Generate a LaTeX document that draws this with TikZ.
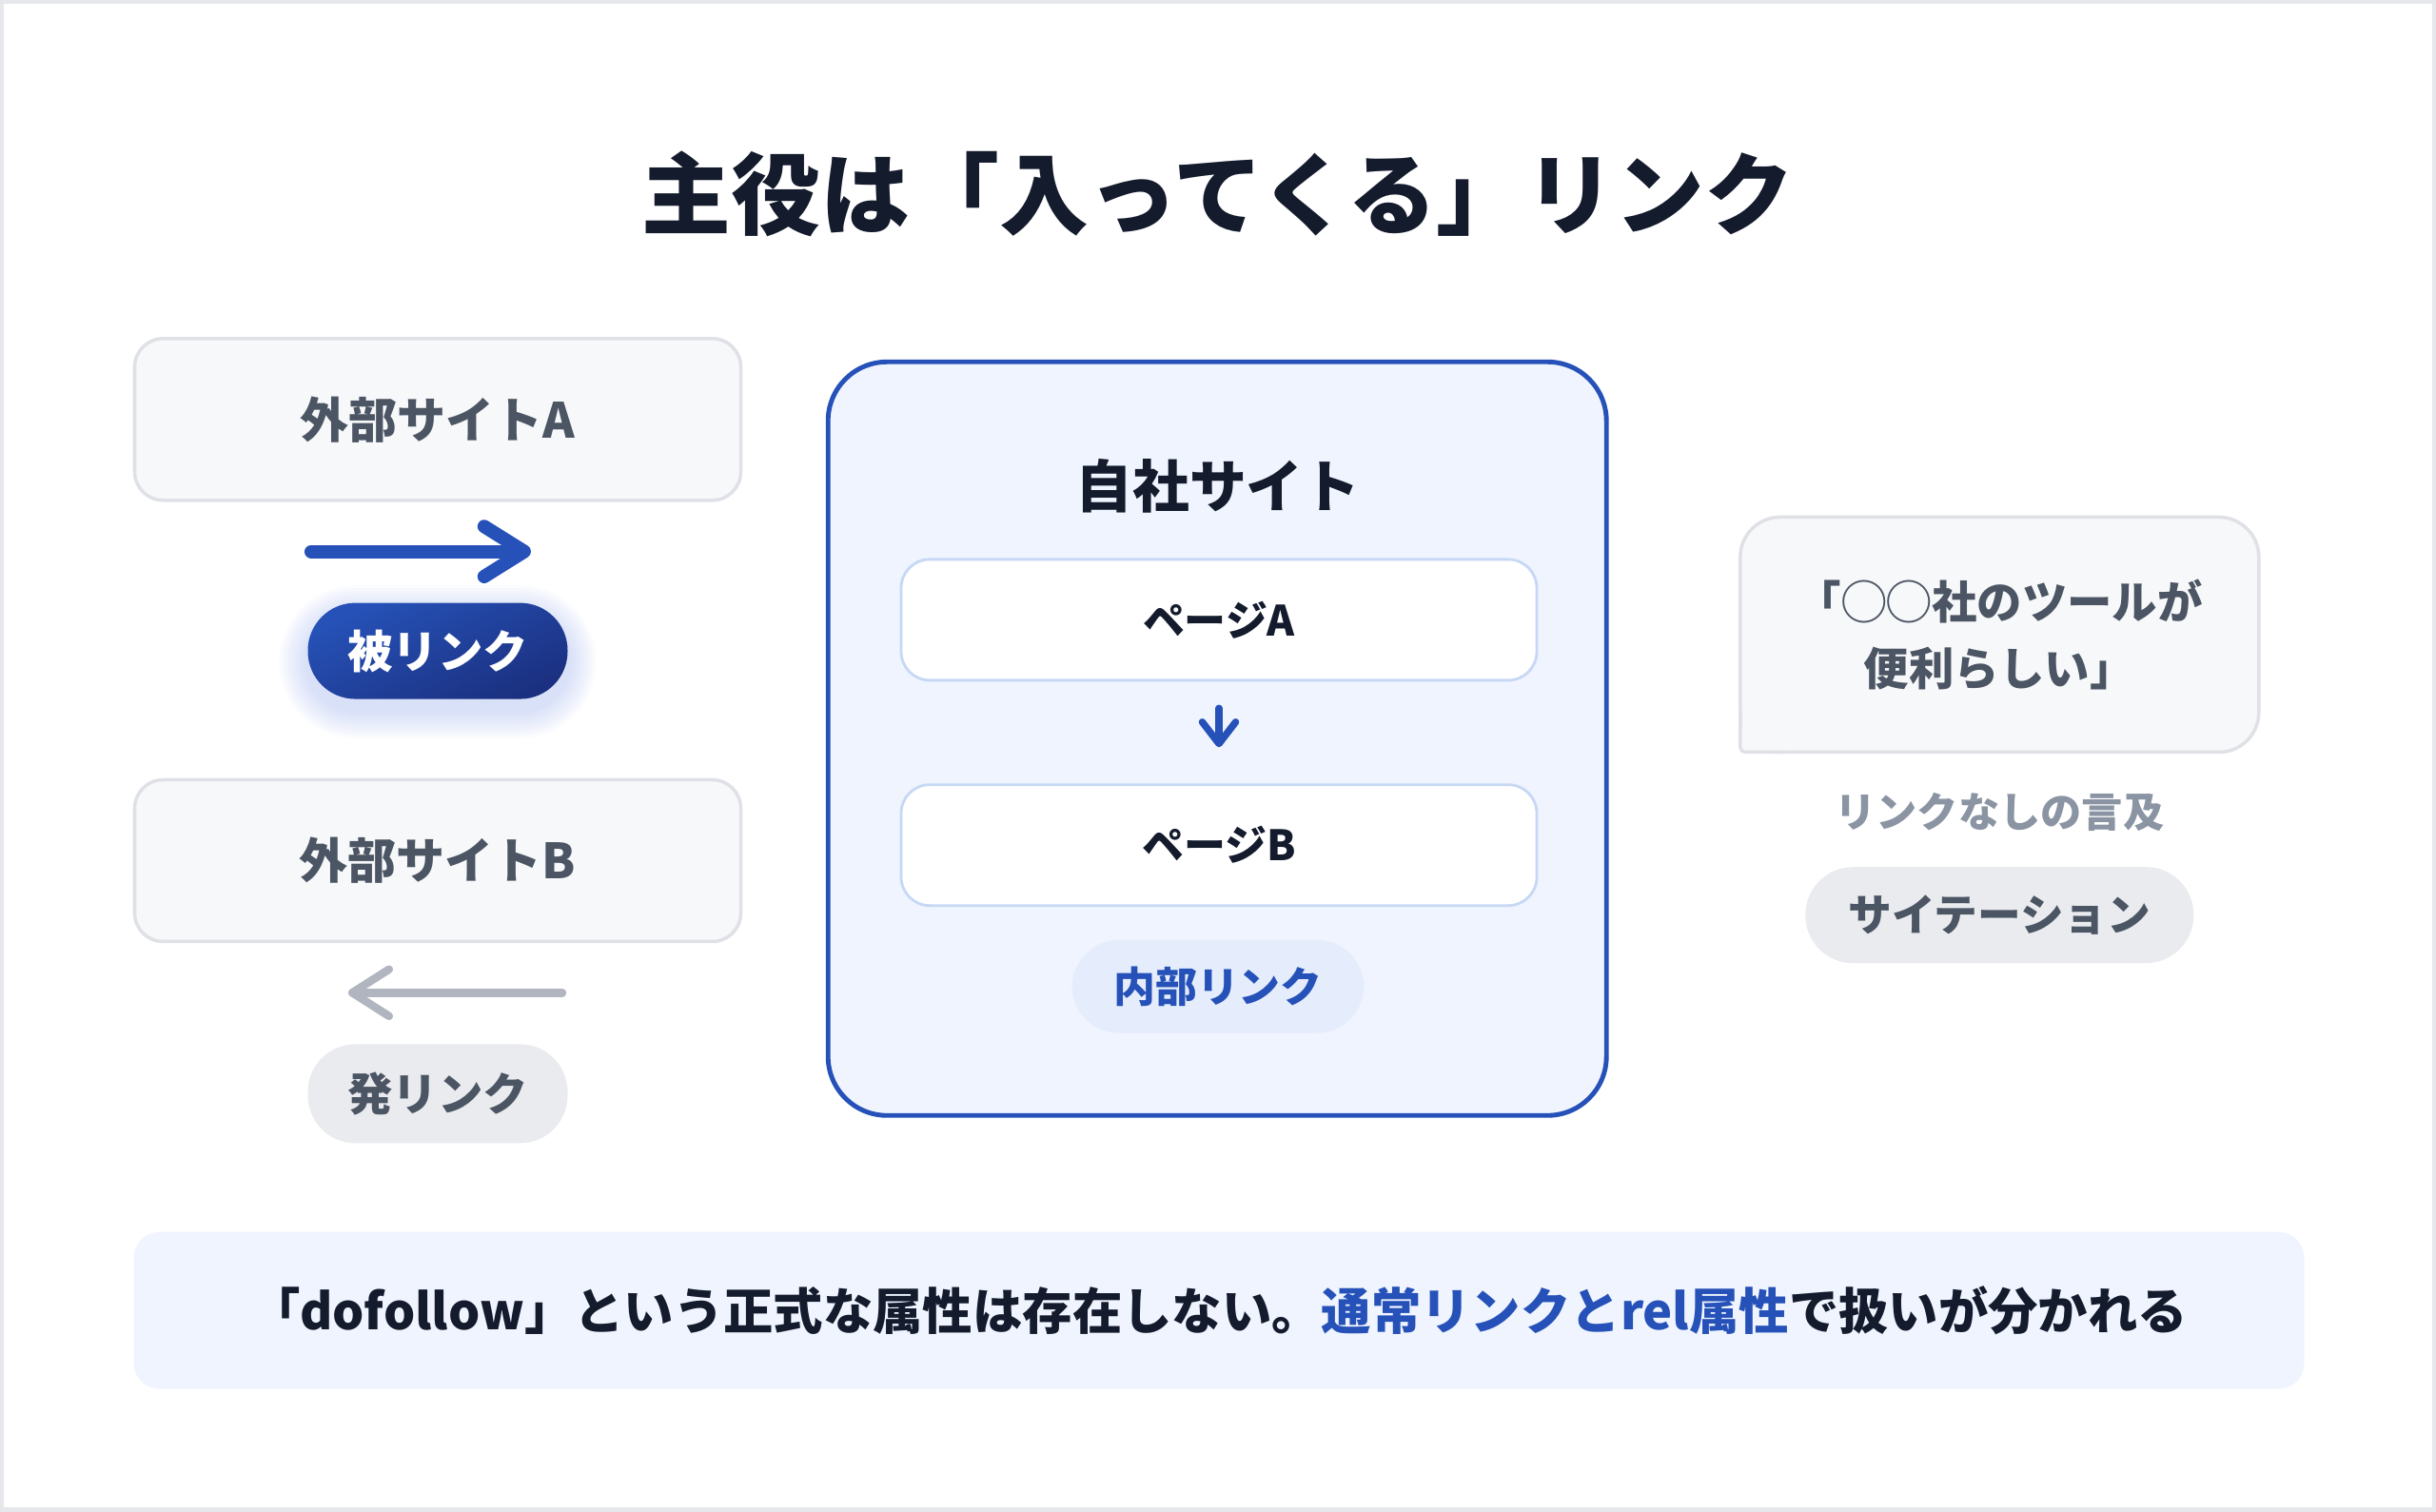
\documentclass[tikz,border=0pt]{standalone}
\usepackage{fontspec}
\setmainfont{Noto Sans CJK JP}
\usetikzlibrary{arrows.meta}
\definecolor{ink}{HTML}{141B2D}
\definecolor{slate}{HTML}{4B5563}
\definecolor{muted}{HTML}{8A94A3}
\definecolor{boxfill}{HTML}{F7F8FA}
\definecolor{boxline}{HTML}{DFE1E6}
\definecolor{framegrey}{HTML}{E5E7EB}
\definecolor{linkblue}{HTML}{2551B8}
\definecolor{pilltop}{HTML}{2652B8}
\definecolor{pillbot}{HTML}{1B3080}
\definecolor{glowblue}{HTML}{4A6FE0}
\definecolor{ownfill}{HTML}{EFF4FE}
\definecolor{pageline}{HTML}{C7D8F5}
\definecolor{pillblue}{HTML}{E5EDFC}
\definecolor{pillgrey}{HTML}{E9EBEF}
\definecolor{arrowgrey}{HTML}{B0B5BF}
\tikzset{
  site/.style={draw=boxline, fill=boxfill, line width=1pt, rounded corners=0.3cm,
    minimum width=6.37cm, minimum height=1.70cm, text=slate,
    font=\fontsize{14.5}{17}\selectfont\bfseries},
  own/.style={draw=linkblue, fill=ownfill, line width=1.4pt, rounded corners=0.62cm,
    minimum width=8.18cm, minimum height=7.92cm},
  page/.style={draw=pageline, fill=white, line width=0.8pt, rounded corners=0.3cm,
    minimum width=6.68cm, minimum height=1.27cm, text=ink,
    font=\fontsize{12.5}{15}\selectfont\bfseries},
  pill/.style={rounded corners=0.5cm, minimum height=1.01cm, inner sep=0pt,
    font=\fontsize{13.5}{16}\selectfont\bfseries},
  bubble/.style={draw=boxline, fill=boxfill, line width=1pt, rounded corners=0.42cm,
    outer sep=0pt, minimum width=5.45cm, minimum height=2.47cm, align=center, text=slate,
    font=\fontsize{13.5}{20}\selectfont\bfseries},
  banner/.style={fill=ownfill, rounded corners=0.27cm, minimum width=22.81cm,
    minimum height=1.65cm, text=ink, font=\fontsize{14.9}{18}\selectfont\bfseries},
  glow/.style={fill=glowblue, opacity=0.022},
  inarrow/.style={draw=linkblue, line width=4pt, line cap=round,
    -{Straight Barb[round, length=12pt, width=15pt]}},
  outarrow/.style={draw=arrowgrey, line width=2.4pt, line cap=round,
    -{Straight Barb[round, length=11pt, width=14pt]}},
  downarrow/.style={draw=linkblue, line width=2.1pt, line cap=round,
    -{Straight Barb[round, length=6.5pt, width=10pt]}},
}
\begin{document}
\begin{tikzpicture}
    \useasboundingbox (0,0) rectangle (25.6,15.886);
    \draw[framegrey, line width=1.2pt] (0.02,0.02) rectangle (25.58,15.866);
    \node[text=ink, font=\fontsize{26.7}{32}\selectfont\bfseries] (title) at (12.80,13.845) {主役は「入ってくる」リンク};

    \node[site] (siteA) at (4.60,11.478) {外部サイトA};
    \coordinate (inS) at (3.27,10.09);
    \coordinate (inE) at (5.58,10.09);
    \draw[inarrow] (inS) -- (inE);
    \foreach \k in {1,...,10}{
        \pgfmathsetmacro{\gr}{0.5+0.03*\k}
        \fill[glow, rounded corners=\gr cm] (4.60-1.365-0.03*\k,8.93-0.505-0.03*\k) rectangle (4.60+1.365+0.03*\k,8.93+0.505+0.03*\k);
    }
    \node[pill, top color=pilltop, bottom color=pillbot, shading angle=25, text=white, minimum width=2.73cm] (inlink) at (4.60,9.045) {被リンク};

    \node[site] (siteB) at (4.60,6.841) {外部サイトB};
    \coordinate (outS) at (5.91,5.453);
    \coordinate (outE) at (3.66,5.453);
    \draw[outarrow] (outS) -- (outE);
    \node[pill, fill=pillgrey, text=slate, minimum width=2.73cm, minimum height=1.04cm] (outlink) at (4.60,4.392) {発リンク};

    \node[own] (own) at (12.792,8.123) {};
    \node[text=ink, font=\fontsize{17}{20}\selectfont\bfseries] (ownlabel) at (12.80,10.776) {自社サイト};
    \node[page] (pageA) at (12.81,9.372) {ページA};
    \node[page] (pageB) at (12.81,7.004) {ページB};
    \draw[downarrow, shorten <=0.28cm, shorten >=0.38cm] (pageA) -- (pageB);
    \node[pill, fill=pillblue, text=linkblue, minimum width=3.07cm, minimum height=0.98cm,
        font=\fontsize{12.5}{15}\selectfont\bfseries] (internal) at (12.80,5.518) {内部リンク};

    \node[bubble] (quote) at (21.013,9.216) {「◯◯社のツールが\\便利らしい」};
    \fill[boxfill] ([shift={(0.5pt,0.5pt)}]quote.south west) rectangle ++(0.45,0.45);
    \draw[boxline, line width=1pt, rounded corners=1.5pt] ([yshift=0.45cm]quote.south west) -- (quote.south west) -- ([xshift=0.45cm]quote.south west);
    \node[text=muted, font=\fontsize{12.3}{15}\selectfont\bfseries] (nolink) at (21.013,7.347) {リンクなしの言及};
    \node[pill, fill=pillgrey, text=slate, minimum width=4.08cm, font=\fontsize{13}{16}\selectfont\bfseries] (citation) at (21.013,6.269) {サイテーション};

    \node[banner] (note) at (12.81,2.114) {「dofollow」という正式な属性は存在しない。\textcolor{linkblue}{通常リンクとrel属性}で扱いが分かれる};
\end{tikzpicture}
\end{document}
